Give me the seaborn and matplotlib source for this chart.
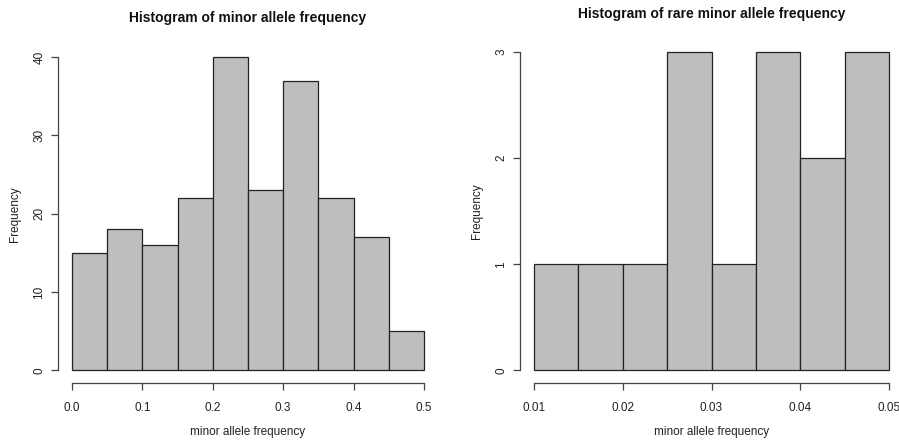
import matplotlib
matplotlib.use("Agg")
import matplotlib.pyplot as plt
import numpy as np
import pandas as pd
import seaborn as sns

# Minor allele frequency histogram (all SNPs)
maf_edges = [0.0, 0.05, 0.10, 0.15, 0.20, 0.25, 0.30, 0.35, 0.40, 0.45, 0.50]
maf_counts = [15, 18, 16, 22, 40, 23, 37, 22, 17, 5]
maf_xticks = [0.0, 0.1, 0.2, 0.3, 0.4, 0.5]
maf_yticks = [0, 10, 20, 30, 40]

# Rare variants only
rare_edges = [0.010, 0.015, 0.020, 0.025, 0.030, 0.035, 0.040, 0.045, 0.050]
rare_counts = [1, 1, 1, 3, 1, 3, 2, 3]
rare_xticks = [0.01, 0.02, 0.03, 0.04, 0.05]
rare_yticks = [0, 1, 2, 3]

sns.set_style("white")
plt.rcParams["font.family"] = ["Liberation Sans", "DejaVu Sans"]

W, H = 899, 440
fig = plt.figure(figsize=(W / 100, H / 100), dpi=100)


def px_axes(left, top, right, bottom):
    return fig.add_axes([left / W, 1 - bottom / H, (right - left) / W, (bottom - top) / H])


def r_hist(ax, edges, counts, xticks, yticks, xlabels, title, title_y):
    e = np.asarray(edges)
    df = pd.DataFrame({"mid": (e[:-1] + e[1:]) / 2, "n": counts})
    sns.histplot(data=df, x="mid", weights="n", bins=list(edges), ax=ax,
                 color="#BEBEBE", edgecolor="#222222", linewidth=0.9, alpha=1)
    xr = edges[-1] - edges[0]
    ax.set_xlim(edges[0] - 0.04 * xr, edges[-1] + 0.04 * xr)
    yr = max(yticks)
    ax.set_ylim(-0.04 * yr, 1.04 * yr)
    for s in ["top", "right"]:
        ax.spines[s].set_visible(False)
    ax.spines["left"].set_bounds(yticks[0], yticks[-1])
    ax.spines["bottom"].set_bounds(xticks[0], xticks[-1])
    for s in ["left", "bottom"]:
        ax.spines[s].set_color("#444444")
        ax.spines[s].set_linewidth(0.9)
    ax.set_xticks(xticks)
    ax.set_yticks(yticks)
    ax.set_xticklabels(xlabels)
    ax.set_yticklabels([str(t) for t in yticks], rotation=90, va="center")
    ax.tick_params(axis="both", direction="out", length=5, width=0.9, color="#444444",
                   labelsize=8.5, labelcolor="#222222", bottom=True, left=True)
    ax.tick_params(axis="x", pad=8.5)
    ax.tick_params(axis="y", pad=4)
    ax.set_xlabel("minor allele frequency", fontsize=8.5, color="#222222", labelpad=9)
    ax.set_ylabel("Frequency", fontsize=8.5, color="#222222", labelpad=9)
    ax.grid(False)
    bb = ax.get_position()
    fig.text((bb.x0 + bb.x1) / 2, 1 - title_y / H, title, ha="center", va="center",
             fontsize=10, fontweight="bold", color="#111111")


ax1 = px_axes(58, 44.5, 438, 383)
r_hist(ax1, maf_edges, maf_counts, maf_xticks, maf_yticks,
       [f"{t:.1f}" for t in maf_xticks],
       "Histogram of minor allele frequency", 18)

ax2 = px_axes(519.8, 39.3, 903.2, 383)
r_hist(ax2, rare_edges, rare_counts, rare_xticks, rare_yticks,
       [f"{t:.2f}" for t in rare_xticks],
       "Histogram of rare minor allele frequency", 14)

fig.savefig("out.png", dpi=100, facecolor="white")
